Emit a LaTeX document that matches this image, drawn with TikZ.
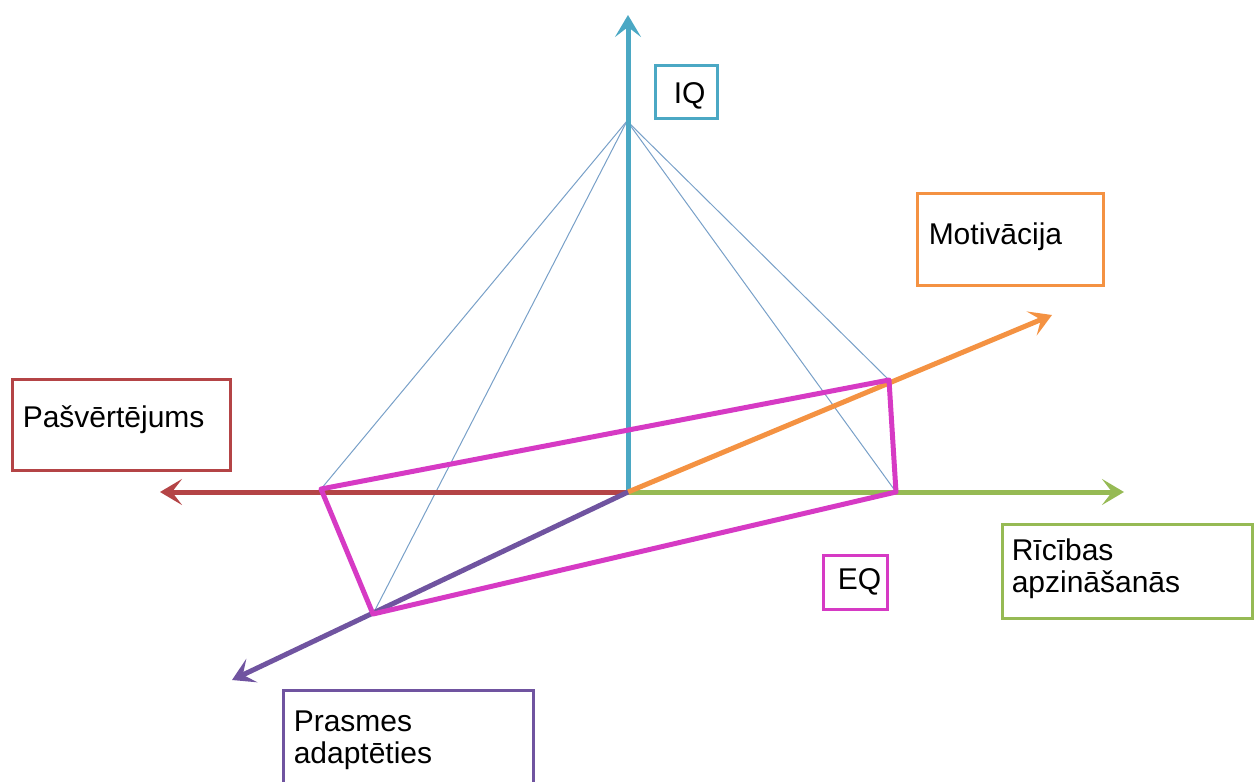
\documentclass[tikz,border=0pt]{standalone}
\usepackage{fontspec}
\setmainfont{Liberation Sans}
\usetikzlibrary{arrows.meta}

\definecolor{iqblue}{RGB}{75,168,196}
\definecolor{selfred}{RGB}{180,68,70}
\definecolor{actgreen}{RGB}{150,186,84}
\definecolor{motorange}{RGB}{244,146,66}
\definecolor{adaptviolet}{RGB}{112,84,160}
\definecolor{eqpink}{RGB}{214,58,196}
\definecolor{ribline}{RGB}{120,160,200}

\tikzset{every picture/.style={line width=0.75pt}}
\tikzset{
	axisarrow/.style={line width=2.5pt,-{Stealth[length=11pt,width=13pt,inset=5pt]}},
	labelbox/.style={line width=1.5pt},
	boxtext/.style={anchor=base west,inner sep=0pt,align=left,font=\fontsize{15}{16}\selectfont},
	rib/.style={draw=ribline,line width=0.5pt},
	eqframe/.style={draw=eqpink,line width=2.5pt,line join=round}
}

\begin{document}
\begin{tikzpicture}[x=0.5pt,y=0.5pt,yscale=-1,xscale=1]
	\useasboundingbox (0,0) rectangle (1254,782);
	
	% points
	\coordinate (O) at (628,492);
	\coordinate (apex) at (627,121);
	\coordinate (iqtip) at (628,15);
	\coordinate (selftip) at (160,492);
	\coordinate (acttip) at (1124,492);
	\coordinate (mottip) at (1052,315);
	\coordinate (adapttip) at (232,680);
	\coordinate (qa) at (321,489);
	\coordinate (qb) at (889,380);
	\coordinate (qc) at (896,492);
	\coordinate (qd) at (373,614);
	
	% thin edges from the apex
	\draw [rib] (apex) -- (qa) ;
	\draw [rib] (apex) -- (qd) ;
	\draw [rib] (apex) -- (qb) ;
	\draw [rib] (apex) -- (qc) ;
	
	% axes
	\draw [axisarrow,draw=iqblue,fill=iqblue] (O) -- (iqtip) ;
	\draw [axisarrow,draw=selfred,fill=selfred] (O) -- (selftip) ;
	\draw [axisarrow,draw=actgreen,fill=actgreen] (O) -- (acttip) ;
	\draw [axisarrow,draw=motorange,fill=motorange] (O) -- (mottip) ;
	\draw [axisarrow,draw=adaptviolet,fill=adaptviolet] (O) -- (adapttip) ;
	
	% EQ quadrilateral
	\draw [eqframe] (qa) -- (qb) -- (qc) -- (qd) -- cycle ;
	
	% label boxes
	\draw [labelbox,draw=iqblue] (655,65) rectangle (717,118) ;
	\draw [labelbox,draw=selfred] (12,379) rectangle (230,470) ;
	\draw [labelbox,draw=motorange] (917,193) rectangle (1103,285) ;
	\draw [labelbox,draw=eqpink] (823,555) rectangle (887,609) ;
	\draw [labelbox,draw=actgreen] (1002,524) rectangle (1252,618) ;
	\draw [labelbox,draw=adaptviolet] (283,690) rectangle (533,800) ;
	
	% Text Node
	\node (iq) [boxtext] at (673,103) {IQ};
	% Text Node
	\node (self) [boxtext] at (22,427) {Pašvērtējums};
	% Text Node
	\node (mot) [boxtext] at (928,244) {Motivācija};
	% Text Node
	\node (eq) [boxtext] at (837,589) {EQ};
	% Text Node (base = last line)
	\node (act) [boxtext] at (1011,592) {Rīcības\\apzināšanās};
	% Text Node (base = last line)
	\node (adapt) [boxtext] at (293,763) {Prasmes\\adaptēties};
	
\end{tikzpicture}
\end{document}
